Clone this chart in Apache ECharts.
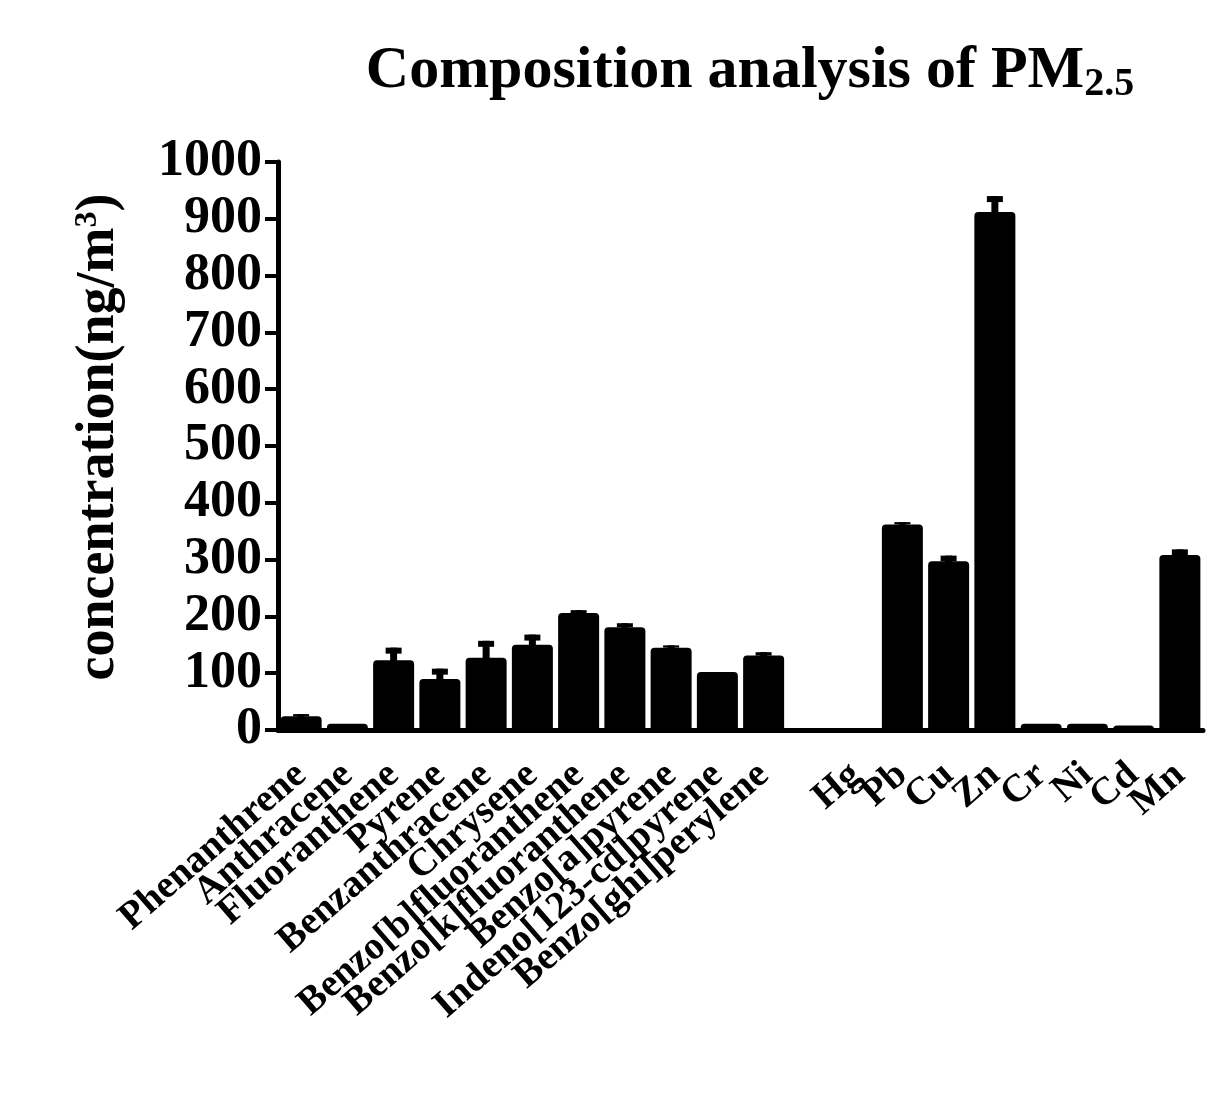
<!DOCTYPE html>
<html>
<head>
<meta charset="utf-8">
<script src="https://cdn.jsdelivr.net/npm/echarts@6/dist/echarts.min.js"></script>
<style>
html,body{margin:0;padding:0;background:#fff;}
#c{width:1224px;height:1100px;}
</style>
</head>
<body>
<div id="c"></div>
<script>
var categories = ['Phenanthrene','Anthracene','Fluoranthene','Pyrene','Benzanthracene','Chrysene',
  'Benzo[b]fluoranthene','Benzo[k]fluoranthene','Benzo[a]pyrene','Indeno[123-cd]pyrene','Benzo[ghi]perylene',
  '','Hg','Pb','Cu','Zn','Cr','Ni','Cd','Mn'];
var values = [24, 11, 123, 90, 127, 150, 206, 181, 145, 102, 131, null, 0.3, 362, 297, 912, 11, 11, 8, 308];
var errors = [4, 1, 22, 18, 30, 18, 5, 7, 4, 1, 6, null, 0, 4, 10, 28, 1, 1, 1, 10];
var yTicks = [0, 100, 200, 300, 400, 500, 600, 700, 800, 900, 1000];

var errData = [];
for (var i = 0; i < values.length; i++) {
  if (values[i] != null) errData.push([i, values[i], errors[i]]);
}

var FONT = '"Liberation Serif", "Times New Roman", serif';
var chart = echarts.init(document.getElementById('c'));
chart.setOption({
  backgroundColor: '#ffffff',
  animation: false,
  title: {
    text: 'Composition analysis of PM{s|2.5}',
    left: 745, top: 32, textAlign: 'center',
    textStyle: {
      fontFamily: FONT, fontWeight: 'bold', fontSize: 60, color: '#000',
      rich: { s: { fontFamily: FONT, fontWeight: 'bold', fontSize: 40, color: '#000', verticalAlign: 'bottom', padding: [28, 0, 0, 0] } }
    }
  },
  grid: { left: 278, right: 21, top: 162, bottom: 370, containLabel: false },
  xAxis: {
    type: 'category',
    data: categories,
    axisLine: { lineStyle: { color: '#000', width: 5 } },
    axisTick: { alignWithLabel: true, length: 14, lineStyle: { color: '#000', width: 6 } },
    axisLabel: {
      interval: 0, rotate: 41, margin: 40,
      fontFamily: FONT, fontWeight: 'bold', fontSize: 39, color: '#000'
    }
  },
  yAxis: {
    type: 'value', min: 0, max: 1000, interval: 100,
    name: 'concentration(ng/m{s|3})',
    nameLocation: 'middle', nameGap: 152, nameRotate: 90,
    nameTextStyle: {
      fontFamily: FONT, fontWeight: 'bold', fontSize: 54, color: '#000', padding: [0, 0, 0, 18],
      rich: { s: { fontFamily: FONT, fontWeight: 'bold', fontSize: 32, color: '#000', verticalAlign: 'top', padding: [0, 0, 22, 0] } }
    },
    splitLine: { show: false },
    axisLine: { show: true, lineStyle: { color: '#000', width: 5 } },
    axisTick: { show: true, length: 13, lineStyle: { color: '#000', width: 4 } },
    axisLabel: {
      margin: 16, fontFamily: FONT, fontWeight: 'bold', fontSize: 52, color: '#000',
      formatter: function (v) { return yTicks.indexOf(v) >= 0 ? String(v) : ''; }
    }
  },
  series: [
    {
      type: 'bar',
      data: values,
      barWidth: 41,
      itemStyle: { color: '#000', borderRadius: [4, 4, 0, 0] }
    },
    {
      type: 'custom',
      data: errData,
      z: 3,
      renderItem: function (params, api) {
        var idx = api.value(0), v = api.value(1), e = api.value(2);
        var base = api.coord([idx, v]);
        var top = api.coord([idx, v + e]);
        var capW = 16, capH = 6, stemW = 7;
        var h = base[1] - top[1];
        if (h < 1) return null;
        return {
          type: 'group',
          children: [
            { type: 'rect', shape: { x: base[0] - stemW / 2, y: top[1], width: stemW, height: h + 2 }, style: { fill: '#000' } },
            { type: 'rect', shape: { x: base[0] - capW / 2, y: top[1], width: capW, height: Math.min(capH, h) }, style: { fill: '#000' } }
          ]
        };
      }
    }
  ]
});
</script>
</body>
</html>
